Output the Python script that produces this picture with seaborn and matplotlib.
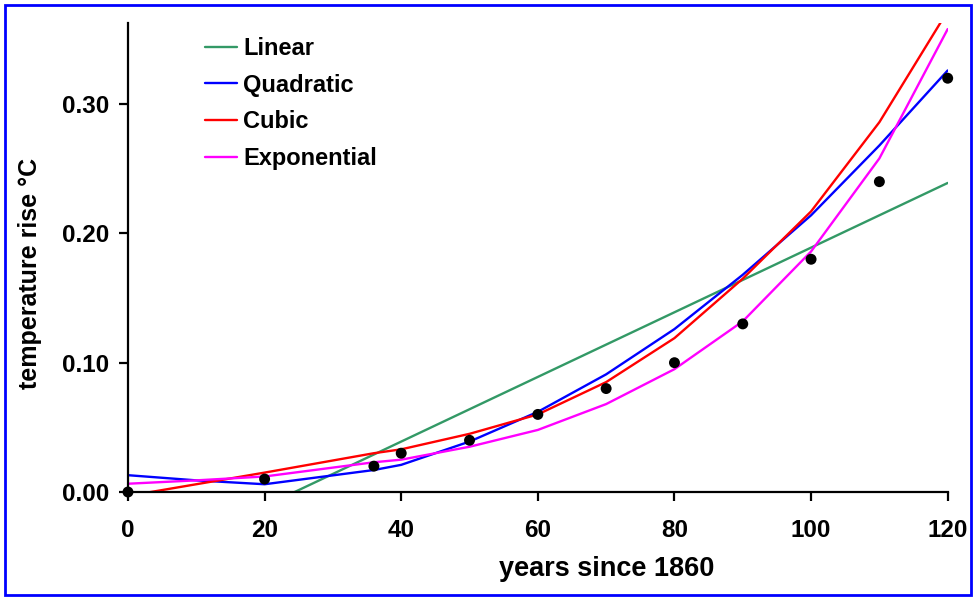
import matplotlib

matplotlib.use("Agg")
import matplotlib.pyplot as plt
import seaborn as sns
from matplotlib.patches import Rectangle

# observed temperature rise
years = [0, 20, 36, 40, 50, 60, 70, 80, 90, 100, 110, 120]
temp_rise = [0.0, 0.01, 0.02, 0.03, 0.04, 0.06, 0.08, 0.10, 0.13, 0.18, 0.24, 0.32]

# fitted curves
fit_years = [0, 10, 20, 36, 40, 50, 60, 70, 80, 90, 100, 110, 120]
linear = [-0.061, -0.036, -0.011, 0.029, 0.039, 0.064, 0.089, 0.114, 0.139,
          0.164, 0.189, 0.214, 0.239]
quadratic = [0.013, 0.009, 0.006, 0.017, 0.021, 0.039, 0.062, 0.091, 0.126,
             0.168, 0.214, 0.268, 0.326]
cubic = [-0.003, 0.006, 0.015, 0.030, 0.033, 0.045, 0.060, 0.085, 0.119,
         0.165, 0.217, 0.286, 0.372]
exponential = [0.0064, 0.009, 0.012, 0.023, 0.025, 0.035, 0.048, 0.068, 0.095,
               0.132, 0.186, 0.258, 0.358]

SERIES = [
    ("Linear", linear, "#339966"),
    ("Quadratic", quadratic, "#0000FF"),
    ("Cubic", cubic, "#FF0000"),
    ("Exponential", exponential, "#FF00FF"),
]

sns.set_theme(style="ticks")
plt.rcParams["font.family"] = ["Liberation Sans", "DejaVu Sans"]
plt.rcParams["font.weight"] = "bold"
plt.rcParams["text.color"] = "black"
plt.rcParams["axes.labelcolor"] = "black"

fig = plt.figure(figsize=(9.77, 6.0), dpi=100)
ax = fig.add_axes([0.131, 0.18, 0.839, 0.7823])

for name, values, color in SERIES:
    sns.lineplot(x=fit_years, y=values, color=color, linewidth=1.7,
                 label=name, ax=ax)

sns.scatterplot(x=years, y=temp_rise, color="black", s=62, edgecolor="none",
                zorder=5, clip_on=False, legend=False, ax=ax)

ax.set_xlim(0, 120)
ax.set_ylim(0, 0.363)
ax.set_xticks(range(0, 121, 20))
ax.set_yticks([0.0, 0.1, 0.2, 0.3])
ax.set_yticklabels(["0.00", "0.10", "0.20", "0.30"])
sns.despine(ax=ax)
for side in ["left", "bottom"]:
    ax.spines[side].set_linewidth(1.6)
    ax.spines[side].set_color("black")
ax.tick_params(axis="both", direction="out", length=6.5, width=1.6,
               colors="black", labelsize=17.5)
ax.tick_params(axis="y", pad=7)
ax.tick_params(axis="x", pad=13)
for lab in ax.get_xticklabels() + ax.get_yticklabels():
    lab.set_fontweight("bold")

ax.set_xlabel("years since 1860", fontsize=19.5, fontweight="bold")
ax.set_ylabel("temperature rise °C", fontsize=18, fontweight="bold")
ax.xaxis.set_label_coords(0.584, -0.137)
ax.yaxis.set_label_coords(-0.105, 0.465)

ax.legend(loc="upper left", bbox_to_anchor=(205 / 977, 1 - 37 / 600),
          bbox_transform=fig.transFigure, frameon=False, fontsize=17,
          handlelength=1.35, handletextpad=0.27, labelspacing=0.58,
          borderpad=0, borderaxespad=0)

fig.patches.append(Rectangle((5 / 977, 5 / 600), 966 / 977, 590 / 600,
                             transform=fig.transFigure, fill=False,
                             edgecolor="#0000FF", linewidth=2))

fig.savefig("out.png", dpi=100, facecolor="white")
